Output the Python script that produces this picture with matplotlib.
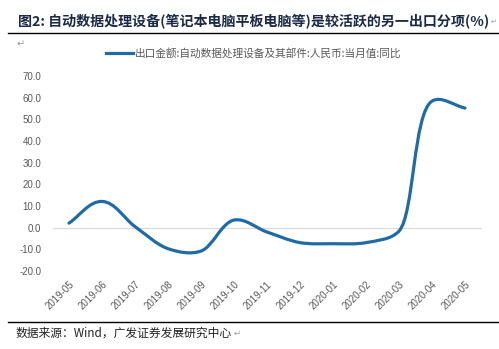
import numpy as np
import matplotlib
matplotlib.use("Agg")
import matplotlib.pyplot as plt
from matplotlib.path import Path
from matplotlib.patches import PathPatch

months = ["2019-05", "2019-06", "2019-07", "2019-08", "2019-09", "2019-10", "2019-11",
          "2019-12", "2020-01", "2020-02", "2020-03", "2020-04", "2020-05"]
yoy = [2.1, 12.1, 0.5, -9.7, -10.8, 3.5, -2.0, -6.9, -7.4, -6.9, -1.6, 58.4, 55.2]
yticks = [-20, -10, 0, 10, 20, 30, 40, 50, 60, 70]

title = "图2: 自动数据处理设备(笔记本电脑平板电脑等)是较活跃的另一出口分项(%)"
legend_label = "出口金额:自动数据处理设备及其部件:人民币:当月值:同比"
source = "数据来源：Wind，广发证券发展研究中心"

CJK = ["Noto Sans CJK SC", "DejaVu Sans"]
LINE_C = "#1F6BA5"
GREY = "#595959"

W, H = 499, 349
fig = plt.figure(figsize=(W / 100, H / 100), dpi=100)
fig.patch.set_facecolor("white")

def fx(px):
    return px / W

def fy(py):
    return 1 - py / H

ax = fig.add_axes([fx(52.5), fy(271), fx(481.5) - fx(52.5), fy(76) - fy(271)])
x = np.arange(len(months))
ax.set_xlim(-0.5, len(months) - 0.5)
ax.set_ylim(-20, 70)
for s in ax.spines.values():
    s.set_visible(False)
ax.axhline(0, color="#D9D9D9", lw=0.8, zorder=1)

# smoothed line computed in display space (Excel-like bezier smoothing)
pts = ax.transData.transform(np.column_stack([x, yoy]))
n = len(pts)
seg = [np.linalg.norm(pts[i + 1] - pts[i]) for i in range(n - 1)]

def unit(v):
    return v / np.linalg.norm(v)

def tangent(i):
    if i == 0:
        return unit(pts[1] - pts[0])
    if i == n - 1:
        return unit(pts[-1] - pts[-2])
    return unit(unit(pts[i] - pts[i - 1]) + unit(pts[i + 1] - pts[i]))

def ctrl_len(i):
    adj = []
    if i > 0:
        adj.append(seg[i - 1])
    if i < n - 1:
        adj.append(seg[i])
    return min(adj)

k = 0.33
verts = [pts[0]]
codes = [Path.MOVETO]
for i in range(n - 1):
    p1, p2 = pts[i], pts[i + 1]
    c1 = p1 + tangent(i) * np.sqrt(seg[i] * ctrl_len(i)) * k
    c2 = p2 - tangent(i + 1) * np.sqrt(seg[i] * ctrl_len(i + 1)) * k
    verts += [c1, c2, p2]
    codes += [Path.CURVE4] * 3
path = Path(verts, codes)
dpath = ax.transData.inverted().transform_path(path)
ax.add_patch(PathPatch(dpath, facecolor="none", edgecolor=LINE_C, lw=2.3,
                       capstyle="round", joinstyle="round", zorder=3))

ax.set_yticks(yticks)
ax.set_yticklabels([f"{v:.1f}" for v in yticks], fontsize=7, color=GREY,
                   family="Liberation Sans")
ax.set_xticks(x)
ax.set_xticklabels(months, rotation=45, ha="right", rotation_mode="anchor",
                   fontsize=7, color=GREY, family="Liberation Sans")
ax.tick_params(axis="both", length=0)
ax.tick_params(axis="y", pad=8)
ax.tick_params(axis="x", pad=6)

r = fig.canvas.get_renderer()

# title, rules, legend, source
tt = fig.text(fx(18), fy(22), title, fontsize=10.1, fontweight="bold", color="#1B2A47",
              family=CJK, ha="left", va="center")
tb = tt.get_window_extent(renderer=r)
fig.text((tb.x1 + 1) / W, fy(22), "↵", fontsize=5, color="#A0A0A0", family=CJK,
         ha="left", va="center")
fig.add_artist(plt.Line2D([fx(8), fx(499)], [fy(33), fy(33)], color="black", lw=1.0))
fig.text(fx(17), fy(44), "↵", fontsize=7, color="#9A9A9A", family=CJK,
         ha="left", va="center")
fig.add_artist(plt.Line2D([fx(106), fx(133)], [fy(53), fy(53)], color=LINE_C, lw=2.3))
fig.text(fx(135), fy(53), legend_label, fontsize=7.7, color=GREY, family=CJK,
         ha="left", va="center")
fig.add_artist(plt.Line2D([fx(8), fx(499)], [fy(322), fy(322)], color="black", lw=1.0))
src = fig.text(fx(16), fy(333), source, fontsize=8.5, color="#222222", family=CJK,
               ha="left", va="center")
bb = src.get_window_extent(renderer=r)
fig.text((bb.x1 + 1) / W, fy(333), "↵", fontsize=6, color="#9A9A9A", family=CJK,
         ha="left", va="center")

fig.savefig("out.png", dpi=100, facecolor="white")
